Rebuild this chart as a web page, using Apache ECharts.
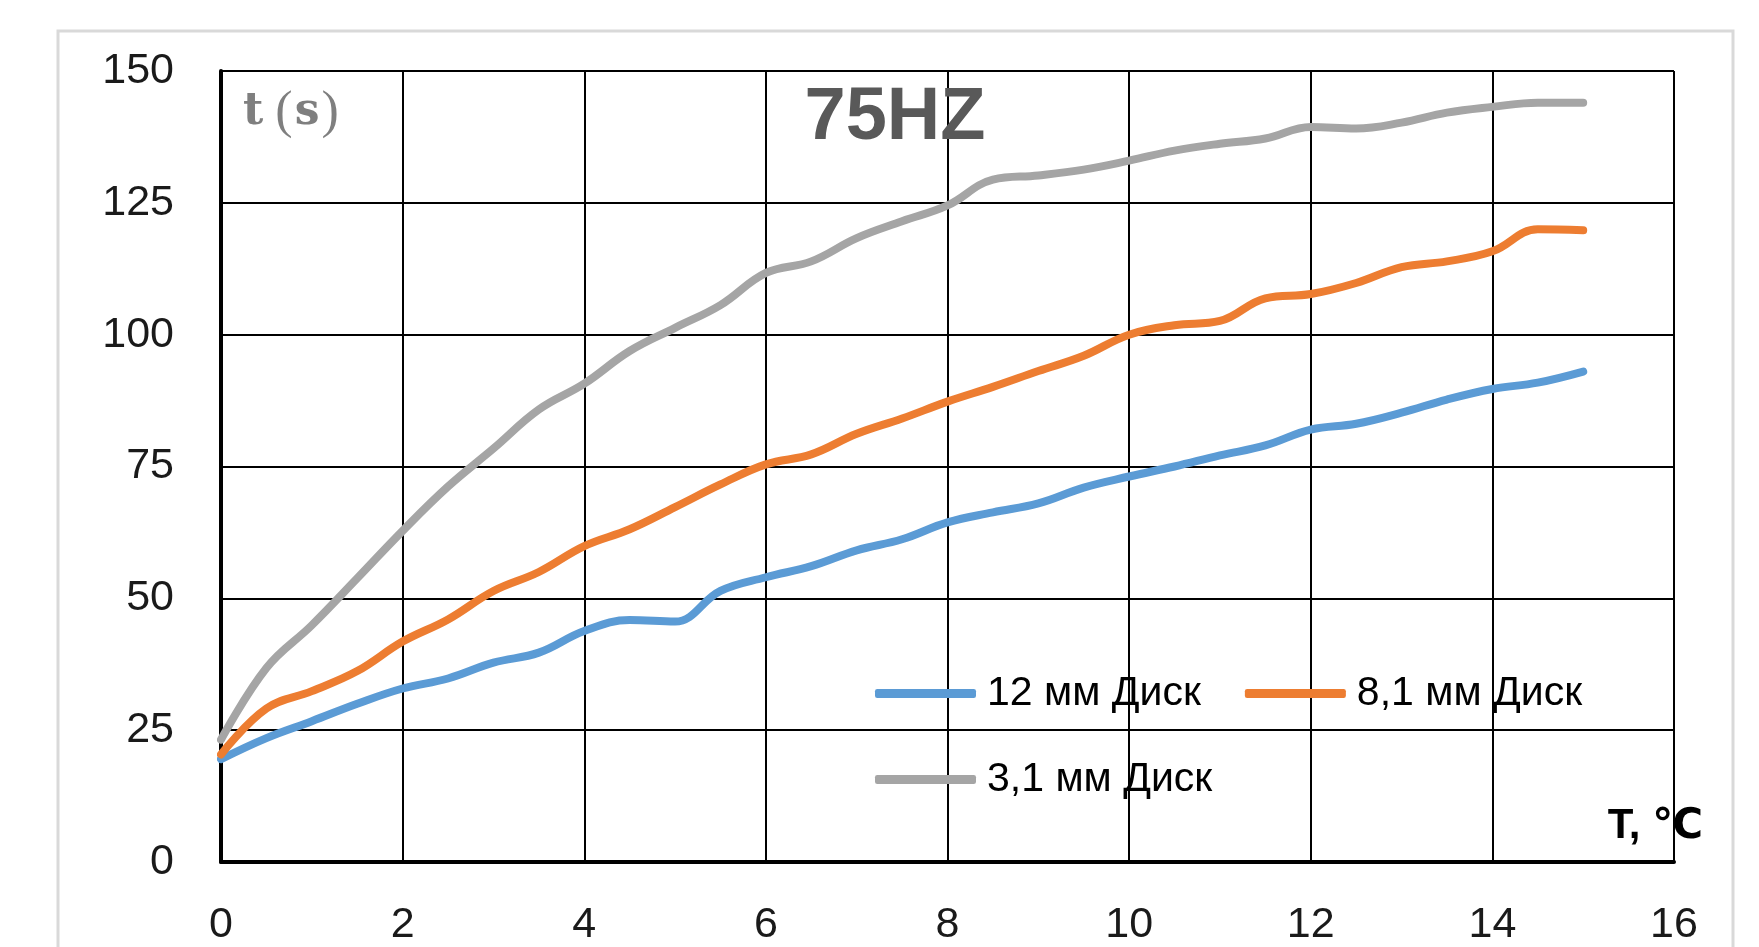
<!DOCTYPE html>
<html>
<head>
<meta charset="utf-8">
<script src="https://cdn.jsdelivr.net/npm/echarts@6/dist/echarts.min.js"></script>
<style>
html,body{margin:0;padding:0;background:#fff;}
#c{width:1759px;height:947px;}
</style>
</head>
<body>
<div id="c"></div>
<script>
const xValues = [0,0.5,1,1.5,2,2.5,3,3.5,4,4.5,5,5.5,6,6.5,7,7.5,8,8.5,9,9.5,10,10.5,11,11.5,12,12.5,13,13.5,14,14.5,15];
const disk12 = [19.5,23.5,26.7,30,32.9,34.8,37.8,39.7,43.8,45.9,45.6,51.4,54,56.1,59.1,61.2,64.4,66.3,68,71,73.1,75,77.1,79,82,83.1,85.2,87.7,89.7,90.9,93];
const disk81 = [20.4,29.1,32.4,36.2,41.8,46,51.4,55,59.9,63.1,67.3,71.6,75.4,77.3,81.2,84.1,87.3,90.1,93.1,96,100,101.8,102.6,106.9,107.7,109.8,112.8,113.9,115.8,120,119.8];
const disk31 = [23.2,36.8,44.9,53.8,62.8,71.2,78.4,85.8,90.7,96.9,101.3,105.6,111.7,113.9,118.3,121.5,124.5,129.4,130.2,131.3,133,134.9,136.2,137.2,139.4,139.1,140.2,142.1,143.2,144,144];
const seriesNames = ['12 мм Диск','8,1 мм Диск','3,1 мм Диск'];
const seriesColors = ['#5b9bd5','#ed7d31','#a5a5a5'];
const yTicks = {min:0,max:150,interval:25};
const xTicks = {min:0,max:16,interval:2};

const pair = arr => xValues.map((x,i)=>[x,arr[i]]);
const allData = [disk12, disk81, disk31];

const chart = echarts.init(document.getElementById('c'), null, {renderer:'canvas'});
const legendText = {fontFamily:'Liberation Sans, Arial, sans-serif', fontSize:41, color:'#000', padding:[0,0,0,6]};
chart.setOption({
  animation:false,
  backgroundColor:'#fff',
  grid:{left:221,right:85,top:71,bottom:84,containLabel:false},
  xAxis:{type:'value',min:xTicks.min,max:xTicks.max,interval:xTicks.interval,
    axisLine:{show:true,onZero:false,lineStyle:{color:'#000',width:4}},
    axisTick:{show:false},
    axisLabel:{margin:42,fontFamily:'Liberation Sans, Arial, sans-serif',fontSize:43,color:'#1a1a1a'},
    splitLine:{show:true,lineStyle:{color:'#000',width:2}}},
  yAxis:{type:'value',min:yTicks.min,max:yTicks.max,interval:yTicks.interval,
    axisLine:{show:true,lineStyle:{color:'#000',width:4}},
    axisTick:{show:false},
    axisLabel:{margin:47,fontFamily:'Liberation Sans, Arial, sans-serif',fontSize:43,color:'#1a1a1a'},
    splitLine:{show:true,lineStyle:{color:'#000',width:2}}},
  legend:[
    {data:[seriesNames[0],seriesNames[1]],left:870,top:668,orient:'horizontal',itemGap:44,itemWidth:101,itemHeight:9,icon:'roundRect',textStyle:legendText},
    {data:[seriesNames[2]],left:870,top:754,orient:'horizontal',itemWidth:101,itemHeight:9,icon:'roundRect',textStyle:legendText}
  ],
  series: allData.map((d,i)=>({
    name:seriesNames[i],type:'line',smooth:0.4,showSymbol:false,symbol:'none',
    data:pair(d),
    lineStyle:{color:seriesColors[i],width:8,cap:'round'},
    itemStyle:{color:seriesColors[i]},
    z:3+i
  })),
  graphic:[
    {type:'rect',shape:{x:58,y:31,width:1675,height:960},style:{fill:'none',stroke:'#d9d9d9',lineWidth:3},z:-10,silent:true},
    {type:'text',x:895,y:119,style:{text:'75HZ',fontFamily:'Liberation Sans, Arial, sans-serif',fontWeight:'bold',fontSize:74,fill:'#595959',align:'center',verticalAlign:'middle'},z:10},
    {type:'text',x:243,y:113,style:{
      text:'{a|t}{b|(}{c|s}{b|)}',
      verticalAlign:'middle',
      rich:{
        a:{fontFamily:'DejaVu Serif, Liberation Serif, serif',fontWeight:'bold',fontSize:44,fill:'#7f7f7f',padding:[0,12,0,0]},
        b:{fontFamily:'Liberation Serif, serif',fontSize:52,fill:'#7f7f7f'},
        c:{fontFamily:'DejaVu Serif, Liberation Serif, serif',fontWeight:'bold',fontSize:44,fill:'#7f7f7f',padding:[0,2,0,2]}
      }},z:10},
    {type:'text',x:1703,y:826,style:{text:'T, ℃',fontFamily:'Liberation Sans, DejaVu Sans, sans-serif',fontWeight:'bold',fontSize:42,fill:'#000',align:'right',verticalAlign:'middle'},z:10}
  ]
});
</script>
</body>
</html>
